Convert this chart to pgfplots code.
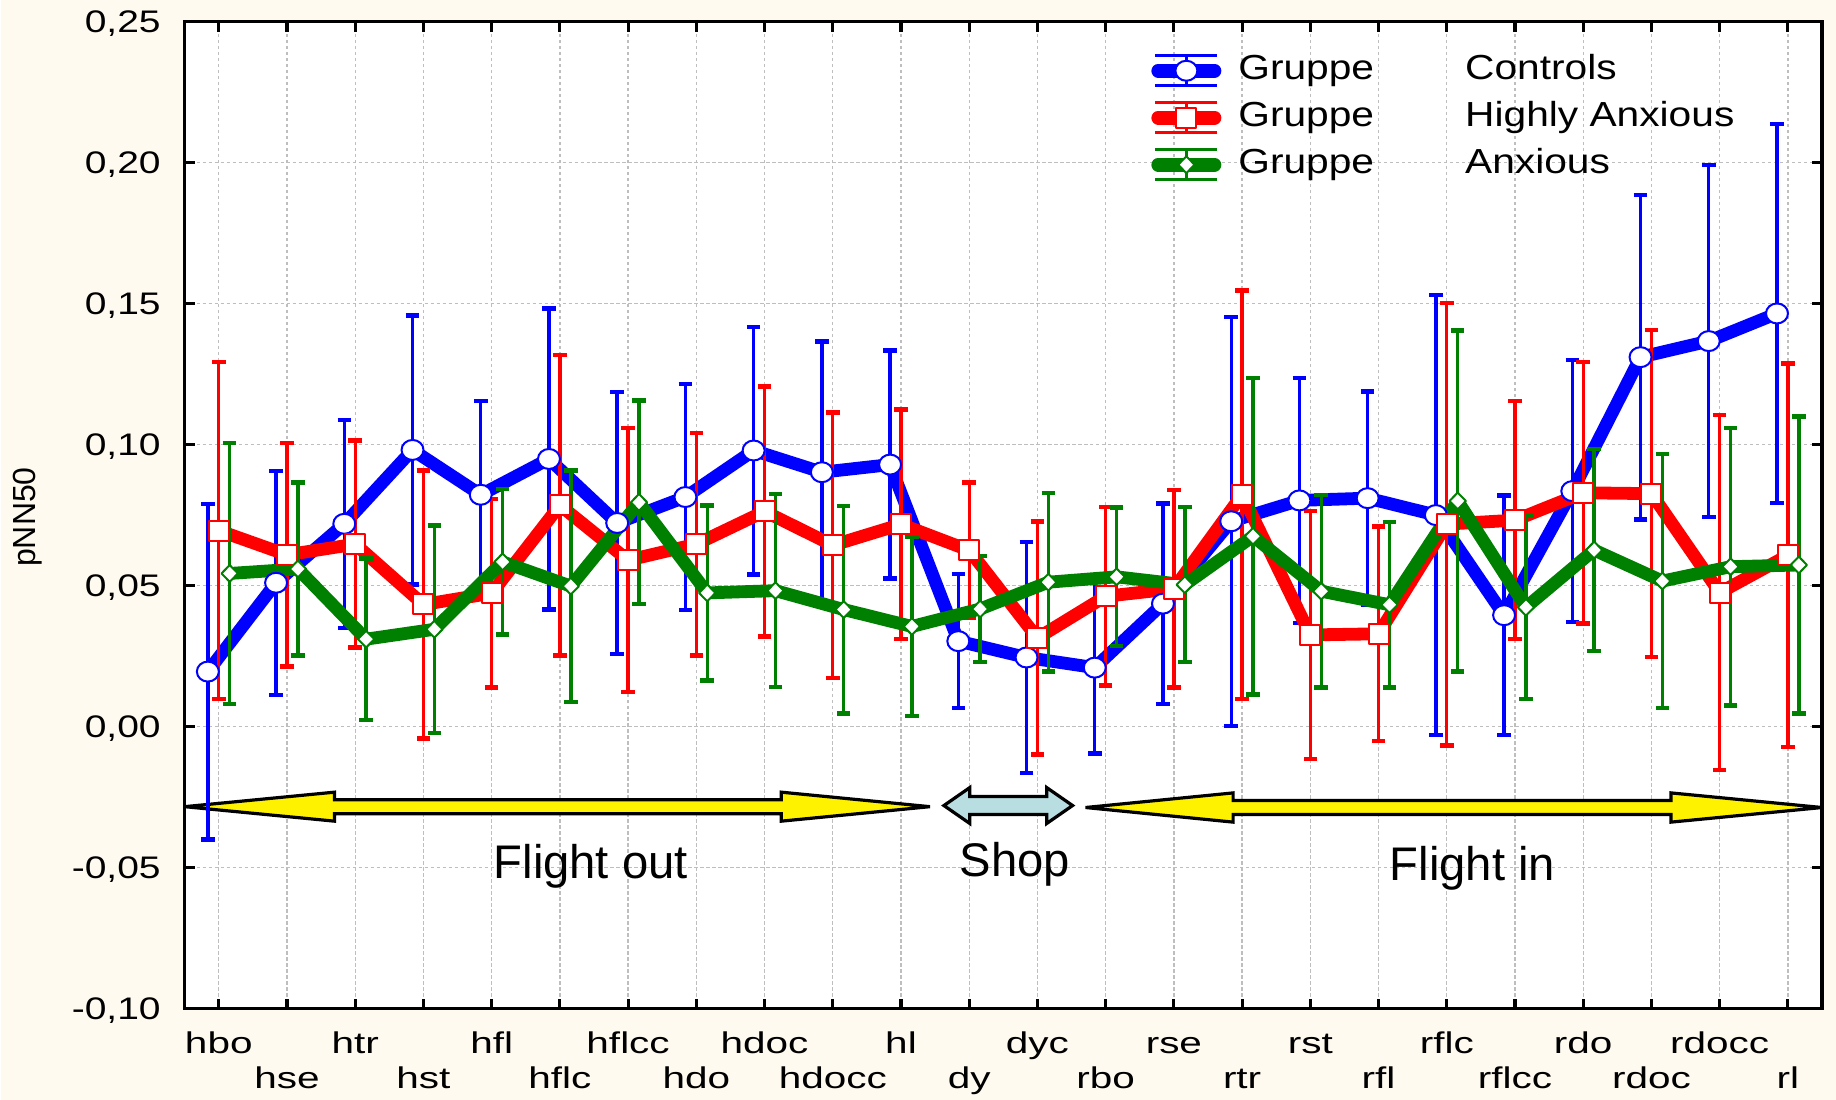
\documentclass[border=0pt]{standalone}
\usepackage{fontspec}
\setmainfont{Liberation Sans}
\usepackage{graphicx}
\usepackage{pgfplots}
\usepackage{pgfplotstable}
\pgfplotsset{compat=1.18}

\definecolor{pagebg}{RGB}{255,250,239}
\definecolor{shopfill}{RGB}{185,222,226}
\definecolor{gridgray}{RGB}{190,190,190}
\definecolor{grn}{RGB}{0,128,0}

% mean pNN50 and half width of the interval, per measurement phase
\pgfplotstableread{
x y e
0 0.0195 0.0595
1 0.0510 0.0397
2 0.0719 0.0369
3 0.0981 0.0477
4 0.0822 0.0333
5 0.0949 0.0534
6 0.0722 0.0465
7 0.0814 0.0400
8 0.0979 0.0439
9 0.0902 0.0464
10 0.0929 0.0404
11 0.0303 0.0237
12 0.0245 0.0410
13 0.0209 0.0305
14 0.0436 0.0355
15 0.0728 0.0725
16 0.0802 0.0435
17 0.0810 0.0378
18 0.0750 0.0780
19 0.0395 0.0424
20 0.0835 0.0465
21 0.1310 0.0576
22 0.1367 0.0624
23 0.1465 0.0672
}\controls

\pgfplotstableread{
x y e
0 0.0695 0.0598
1 0.0609 0.0396
2 0.0647 0.0367
3 0.0433 0.0475
4 0.0473 0.0335
5 0.0785 0.0533
6 0.0590 0.0468
7 0.0647 0.0395
8 0.0763 0.0443
9 0.0643 0.0471
10 0.0717 0.0407
11 0.0625 0.0240
12 0.0314 0.0413
13 0.0462 0.0316
14 0.0489 0.0350
15 0.0822 0.0725
16 0.0325 0.0439
17 0.0329 0.0380
18 0.0718 0.0785
19 0.0732 0.0422
20 0.0829 0.0463
21 0.0826 0.0580
22 0.0475 0.0630
23 0.0607 0.0680
}\highly

\pgfplotstableread{
x y e
0 0.0543 0.0462
1 0.0559 0.0307
2 0.0310 0.0286
3 0.0345 0.0368
4 0.0584 0.0258
5 0.0498 0.0410
6 0.0795 0.0361
7 0.0474 0.0310
8 0.0482 0.0342
9 0.0415 0.0368
10 0.0355 0.0318
11 0.0417 0.0188
12 0.0512 0.0317
13 0.0531 0.0246
14 0.0503 0.0275
15 0.0675 0.0561
16 0.0480 0.0341
17 0.0432 0.0293
18 0.0800 0.0605
19 0.0423 0.0326
20 0.0626 0.0358
21 0.0516 0.0450
22 0.0567 0.0492
23 0.0573 0.0526
}\anxious

\newcommand{\xl}[1]{\scalebox{1.35}[1]{#1}}
\newcommand{\lgd}[2]{\scalebox{1.17}[1]{\makebox[48.5pt][l]{#1}#2}}

\pgfplotsset{
  errlegend/.style={legend image code/.code={
    \draw[line width=0.8pt, solid] (1pt,-3.75pt) -- (16.5pt,-3.75pt)
      (1pt,3.75pt) -- (16.5pt,3.75pt) (8.75pt,-3.75pt) -- (8.75pt,3.75pt);
    \draw[line width=3.4pt, line cap=round, solid] (1.7pt,0pt) -- (15.8pt,0pt);
    \path plot coordinates {(8.75pt,0pt)};
  }},
  series/.style={
    color=#1, line width=3.2pt, line join=round, errlegend,
    error bars/y dir=both, error bars/y explicit,
    error bars/error bar style={line width=0.85pt, solid},
    error bars/error mark options={rotate=90, mark size=1.7pt, line width=1.1pt, #1}
  }
}

\begin{document}
\begin{tikzpicture}
\fill[pagebg] (0,0) rectangle (459pt,275pt);
\begin{axis}[
  at={(46pt,22.75pt)}, anchor=south west,
  scale only axis, width=409.5pt, height=246.85pt,
  xmin=-0.5, xmax=23.5, ymin=-0.1, ymax=0.25,
  axis background/.style={fill=white},
  axis line style={line width=0.85pt},
  tick align=inside, xtick pos=both, ytick pos=both,
  major tick length=2.5pt,
  tick style={black, line width=0.8pt},
  grid=major,
  major grid style={gridgray, line width=0.35pt, dash pattern=on 0.8pt off 0.7pt},
  xtick={0,2,4,6,8,10,12,14,16,18,20,22},
  xticklabels={\xl{hbo},\xl{htr},\xl{hfl},\xl{hflcc},\xl{hdoc},\xl{hl},\xl{dyc},\xl{rse},\xl{rst},\xl{rflc},\xl{rdo},\xl{rdocc}},
  extra x ticks={1,3,5,7,9,11,13,15,17,19,21,23},
  extra x tick labels={\xl{hse},\xl{hst},\xl{hflc},\xl{hdo},\xl{hdocc},\xl{dy},\xl{rbo},\xl{rtr},\xl{rfl},\xl{rflcc},\xl{rdoc},\xl{rl}},
  extra x tick style={grid=major, tick label style={yshift=-8.75pt}},
  xticklabel style={anchor=base, yshift=-11.25pt, inner sep=0pt, font=\fontsize{7.5}{9}\selectfont},
  ytick={-0.1,-0.05,0,0.05,0.1,0.15,0.2,0.25},
  yticklabel={\scalebox{1.25}[1]{\pgfmathprintnumber[fixed,fixed zerofill,precision=2,use comma,assume math mode=true]{\tick}}},
  yticklabel style={anchor=base east, inner sep=0pt, xshift=-5.8pt, yshift=-2.8pt, font=\fontsize{7.8}{9}\selectfont},
  ylabel={pNN50},
  ylabel style={at={(axis description cs:-0.091,0.498)}, anchor=base, font=\fontsize{8}{9.6}\selectfont},
  legend cell align=left,
  legend style={at={(axis cs:13.67,0.2159)}, anchor=west, draw=none, fill=none,
    inner sep=0pt, outer sep=0pt, row sep=3.25pt, column sep=4.25pt,
    font=\fontsize{8.7}{10}\selectfont,
    nodes={inner sep=0pt, text height=6.5pt, text depth=2pt}},
]

% phase arrows and their captions
\draw[fill=yellow, line width=0.8pt, line join=miter]
  (axis cs:-0.5,-0.0284) -- (axis cs:1.696,-0.02326) -- (axis cs:1.696,-0.02592)
  -- (axis cs:8.246,-0.02592) -- (axis cs:8.246,-0.02326) -- (axis cs:10.424,-0.0284)
  -- (axis cs:8.246,-0.03354) -- (axis cs:8.246,-0.03088) -- (axis cs:1.696,-0.03088)
  -- (axis cs:1.696,-0.03354) -- cycle;
\draw[fill=shopfill, line width=0.8pt, line join=miter]
  (axis cs:10.629,-0.0280) -- (axis cs:11.009,-0.02162) -- (axis cs:11.009,-0.02481)
  -- (axis cs:12.135,-0.02481) -- (axis cs:12.135,-0.02162) -- (axis cs:12.515,-0.0280)
  -- (axis cs:12.135,-0.03438) -- (axis cs:12.135,-0.03119) -- (axis cs:11.009,-0.03119)
  -- (axis cs:11.009,-0.03438) -- cycle;
\draw[fill=yellow, line width=0.8pt, line join=miter]
  (axis cs:12.705,-0.0287) -- (axis cs:14.868,-0.02352) -- (axis cs:14.868,-0.02622)
  -- (axis cs:21.287,-0.02622) -- (axis cs:21.287,-0.02352) -- (axis cs:23.5,-0.0287)
  -- (axis cs:21.287,-0.03388) -- (axis cs:21.287,-0.03118) -- (axis cs:14.868,-0.03118)
  -- (axis cs:14.868,-0.03388) -- cycle;
\node[anchor=base, font=\fontsize{11.8}{14}\selectfont] at (axis cs:5.453,-0.0539) {Flight out};
\node[anchor=base, font=\fontsize{11.8}{14}\selectfont] at (axis cs:11.667,-0.0532) {Shop};
\node[anchor=base, font=\fontsize{11.8}{14}\selectfont] at (axis cs:18.377,-0.0546) {Flight in};

\addplot[series=blue, mark=*, mark size=2.5pt,
  mark options={fill=white, draw=blue, line width=0.5pt, solid, xscale=1.1}]
  table[x expr=\thisrow{x}-0.16, y=y, y error=e] {\controls};
\addlegendentry{\lgd{Gruppe}{Controls}}

\addplot[series=red, mark=square*, mark size=2.5pt,
  mark options={fill=white, draw=red, line width=0.5pt, solid}]
  table[x expr=\thisrow{x}, y=y, y error=e] {\highly};
\addlegendentry{\lgd{Gruppe}{Highly Anxious}}

\addplot[series=grn, mark=diamond*, mark size=2.1pt,
  mark options={fill=white, draw=grn, line width=0.5pt, solid, xscale=1.3}]
  table[x expr=\thisrow{x}+0.16, y=y, y error=e] {\anxious};
\addlegendentry{\lgd{Gruppe}{Anxious}}

\end{axis}
\end{tikzpicture}
\end{document}
